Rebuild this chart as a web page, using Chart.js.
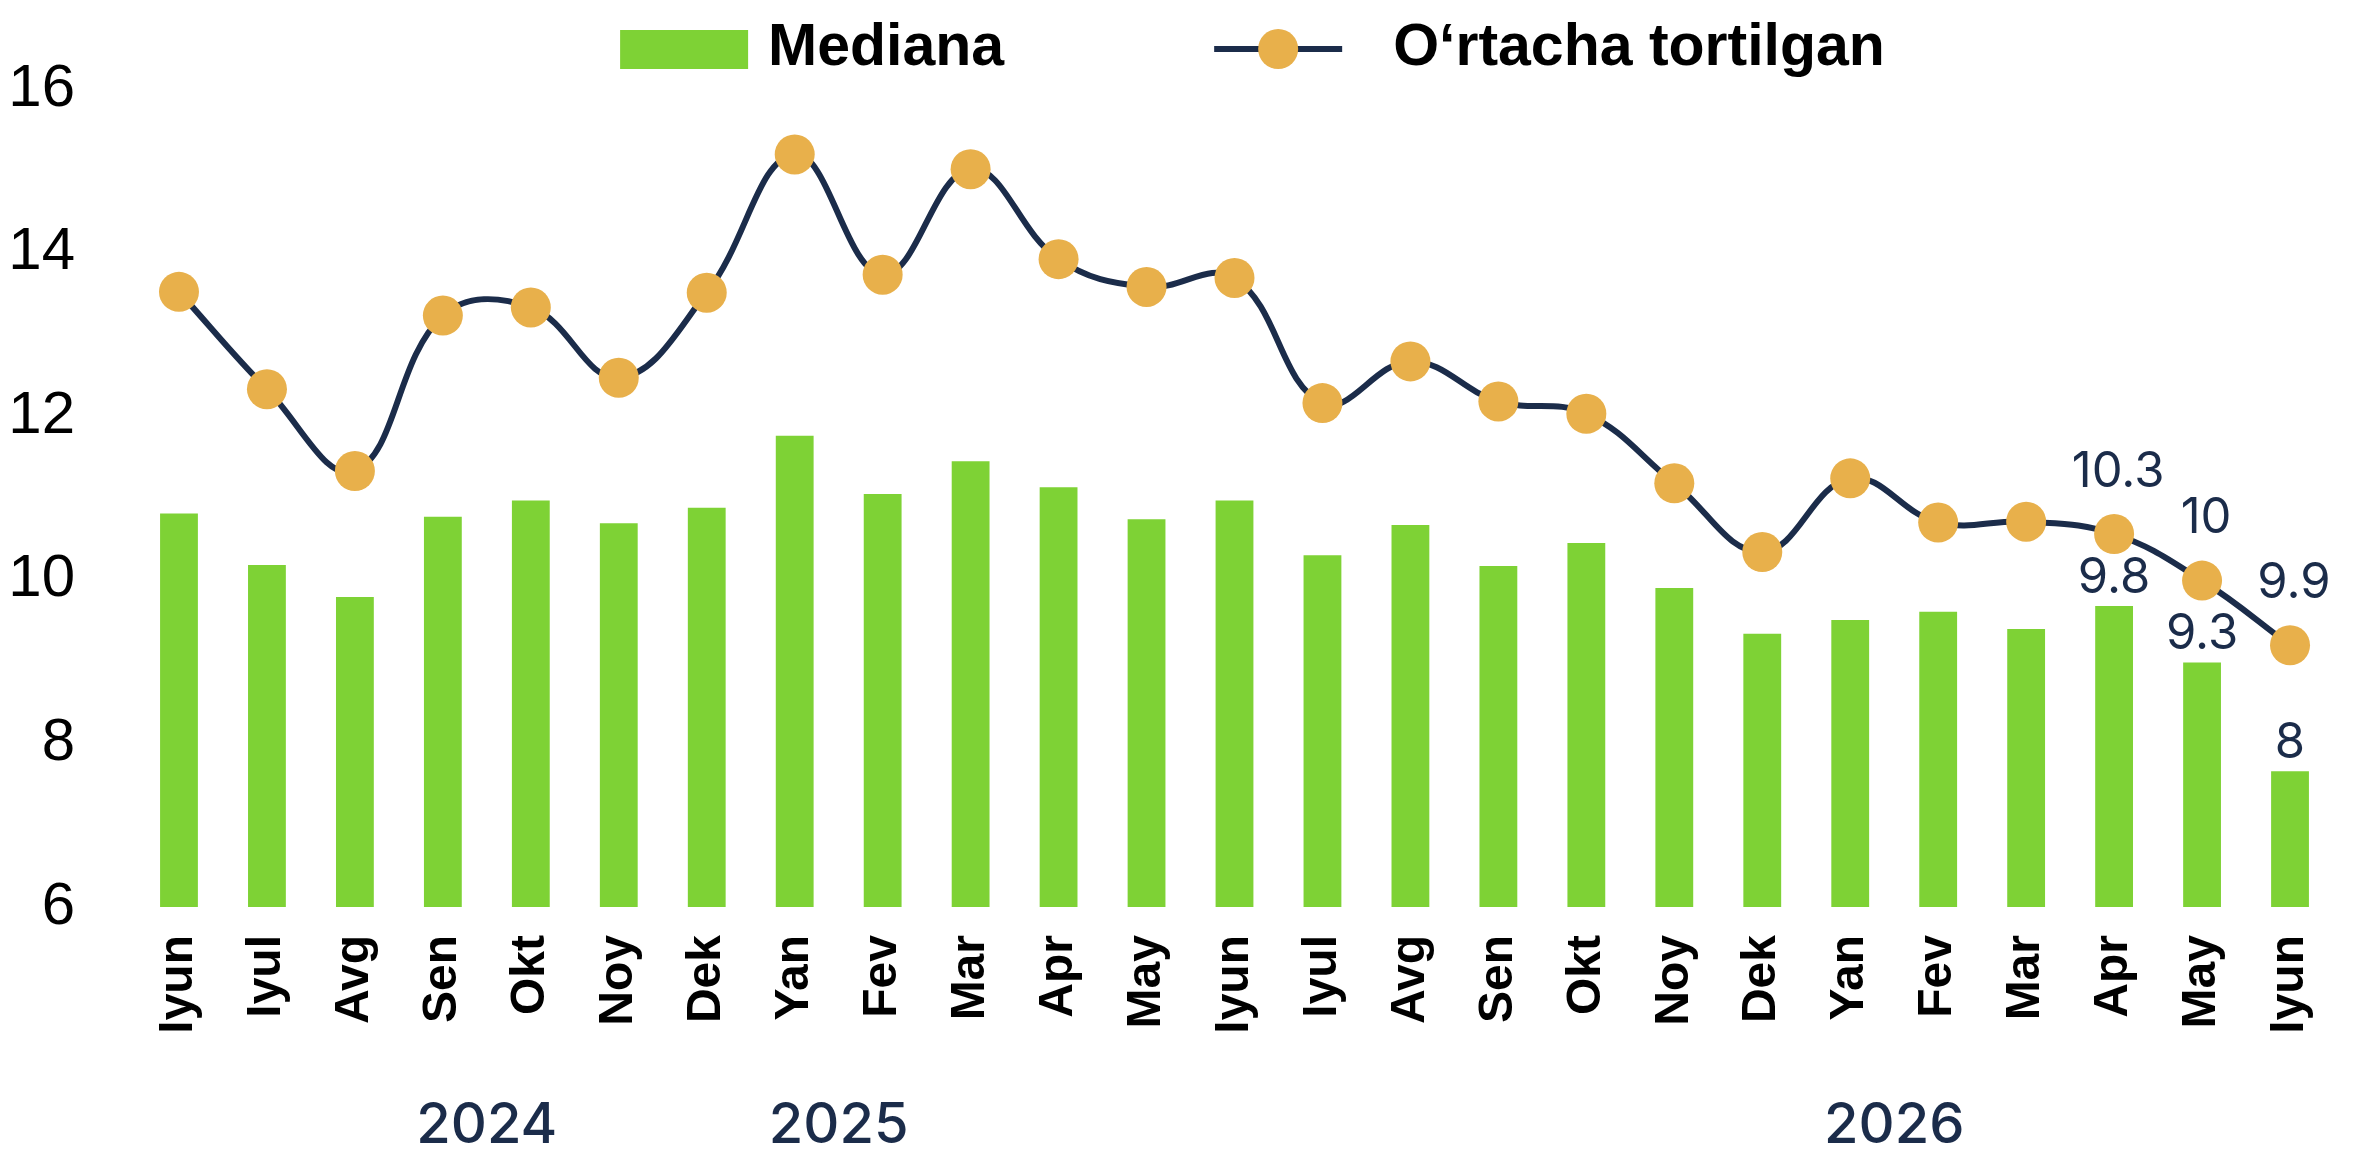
<!DOCTYPE html>
<html>
<head>
<meta charset="utf-8">
<script src="https://cdn.jsdelivr.net/npm/chart.js@4.4.1/dist/chart.umd.min.js"></script>
<style>
  html, body { margin: 0; padding: 0; background: #fff; }
  #wrap { width: 2354px; height: 1153px; }
</style>
</head>
<body>
<div id="wrap"><canvas id="chart"></canvas></div>
<script>
// months, Jun 2024 .. Jun 2026
var months = ["Iyun", "Iyul", "Avg", "Sen", "Okt", "Noy", "Dek", "Yan", "Fev", "Mar", "Apr", "May",
  "Iyun", "Iyul", "Avg", "Sen", "Okt", "Noy", "Dek", "Yan", "Fev", "Mar", "Apr", "May", "Iyun"];

var mediana = [10.81, 10.18, 9.79, 10.77, 10.97, 10.69, 10.88, 11.76, 11.05, 11.45, 11.13, 10.74,
  10.97, 10.30, 10.67, 10.17, 10.45, 9.90, 9.34, 9.51, 9.61, 9.40, 9.68, 8.99, 7.66];

var ortacha = [13.52, 12.33, 11.33, 13.23, 13.33, 12.47, 13.51, 15.20, 13.73, 15.02, 13.92, 13.58,
  13.69, 12.16, 12.67, 12.18, 12.03, 11.18, 10.34, 11.24, 10.70, 10.71, 10.56, 9.99, 9.20];

// value labels shown on the last three months
var medianaLabels = [null, null, null, null, null, null, null, null, null, null, null, null,
  null, null, null, null, null, null, null, null, null, null, "9.8", "9.3", "8"];
var ortachaLabels = [null, null, null, null, null, null, null, null, null, null, null, null,
  null, null, null, null, null, null, null, null, null, null, "10.3", "10", "9.9"];

var yearLabels = ["2024", "2025", "2026"];
var yearAt = [3.5, 7.5, 19.5];

var yTicks = [6, 8, 10, 12, 14, 16];

var GREEN = "#7ED235";
var ORANGE = "#E8B04B";
var NAVY = "#1B2C4A";

var customLegend = {
  id: "customLegend",
  afterDraw: function (chart) {
    var ctx = chart.ctx;
    var area = chart.chartArea;
    var ds = chart.data.datasets;
    ctx.save();
    ctx.font = "bold 59px 'Liberation Sans', Arial, sans-serif";
    ctx.textBaseline = "middle";
    ctx.textAlign = "left";
    var w1 = ctx.measureText(ds[1].label).width;
    var w2 = ctx.measureText(ds[0].label).width;
    var total = 128 + 20 + w1 + 210 + 128 + 51 + w2;
    var x = (area.left + area.right) / 2 + 18 - total / 2;
    var y = 49;
    // bar item
    ctx.fillStyle = ds[1].backgroundColor;
    ctx.fillRect(x, y - 19, 128, 39);
    ctx.fillStyle = "#000";
    ctx.fillText(ds[1].label, x + 148, y);
    x += 128 + 20 + w1 + 210;
    // line item
    ctx.strokeStyle = ds[0].borderColor;
    ctx.lineWidth = 6;
    ctx.beginPath();
    ctx.moveTo(x, y);
    ctx.lineTo(x + 128, y);
    ctx.stroke();
    ctx.fillStyle = ds[0].pointBackgroundColor;
    ctx.beginPath();
    ctx.arc(x + 64, y, 20, 0, Math.PI * 2);
    ctx.fill();
    ctx.fillStyle = "#000";
    ctx.fillText(ds[0].label, x + 128 + 51, y);
    ctx.restore();
  },
};

var valueLabels = {
  id: "valueLabels",
  afterDatasetsDraw: function (chart) {
    var ctx = chart.ctx;
    ctx.save();
    ctx.font = "49px Inter, 'Noto Sans', sans-serif";
    ctx.fillStyle = NAVY;
    ctx.textAlign = "center";
    ctx.textBaseline = "middle";
    var lineMeta = chart.getDatasetMeta(0);
    var barMeta = chart.getDatasetMeta(1);
    ortachaLabels.forEach(function (t, i) {
      if (!t) return;
      var p = lineMeta.data[i];
      ctx.fillText(t, p.x + 4, p.y - 62);
    });
    medianaLabels.forEach(function (t, i) {
      if (!t) return;
      var b = barMeta.data[i];
      ctx.fillText(t, b.x, b.y - 28);
    });
    // years under the month labels
    var xs = chart.scales.x;
    ctx.font = "500 56px Inter, 'Noto Sans', sans-serif";
    yearLabels.forEach(function (t, i) {
      ctx.fillText(t, xs.getPixelForValue(yearAt[i]), chart.chartArea.bottom + 219);
    });
    ctx.restore();
  },
};

new Chart(document.getElementById("chart"), {
  data: {
    labels: months,
    datasets: [
      {
        type: "line",
        label: "O\u2018rtacha tortilgan",
        data: ortacha,
        borderColor: NAVY,
        borderWidth: 6,
        tension: 0.4,
        pointRadius: 20,
        pointHoverRadius: 20,
        pointBackgroundColor: ORANGE,
        pointBorderWidth: 0,
        order: 0,
      },
      {
        type: "bar",
        label: "Mediana",
        data: mediana,
        backgroundColor: GREEN,
        categoryPercentage: 1,
        barPercentage: 0.43,
        order: 1,
      },
    ],
  },
  options: {
    responsive: true,
    maintainAspectRatio: false,
    animation: false,
    layout: {
      padding: { top: 89, right: 3, left: 0, bottom: 0 },
    },
    plugins: {
      legend: { display: false },
      tooltip: { enabled: false },
    },
    scales: {
      x: {
        grid: { display: false, drawTicks: false },
        border: { display: false },
        ticks: {
          autoSkip: false,
          minRotation: 90,
          maxRotation: 90,
          padding: 28,
          color: "#000",
          font: { family: "'Liberation Sans', Arial, sans-serif", size: 48, weight: "bold" },
        },
        afterFit: function (s) {
          s.height = 246;
          s.paddingLeft = 0;
          s.paddingRight = 0;
        },
      },
      y: {
        min: 6,
        max: 16,
        grid: { display: false, drawTicks: false },
        border: { display: false },
        afterBuildTicks: function (s) {
          s.ticks = yTicks.map(function (v) { return { value: v }; });
        },
        ticks: {
          padding: 60,
          color: "#000",
          font: { family: "'Liberation Sans', Arial, sans-serif", size: 60 },
        },
        afterFit: function (s) {
          s.width = 135;
          s.paddingTop = 0;
          s.paddingBottom = 0;
        },
      },
    },
  },
  plugins: [customLegend, valueLabels],
});
</script>
</body>
</html>
